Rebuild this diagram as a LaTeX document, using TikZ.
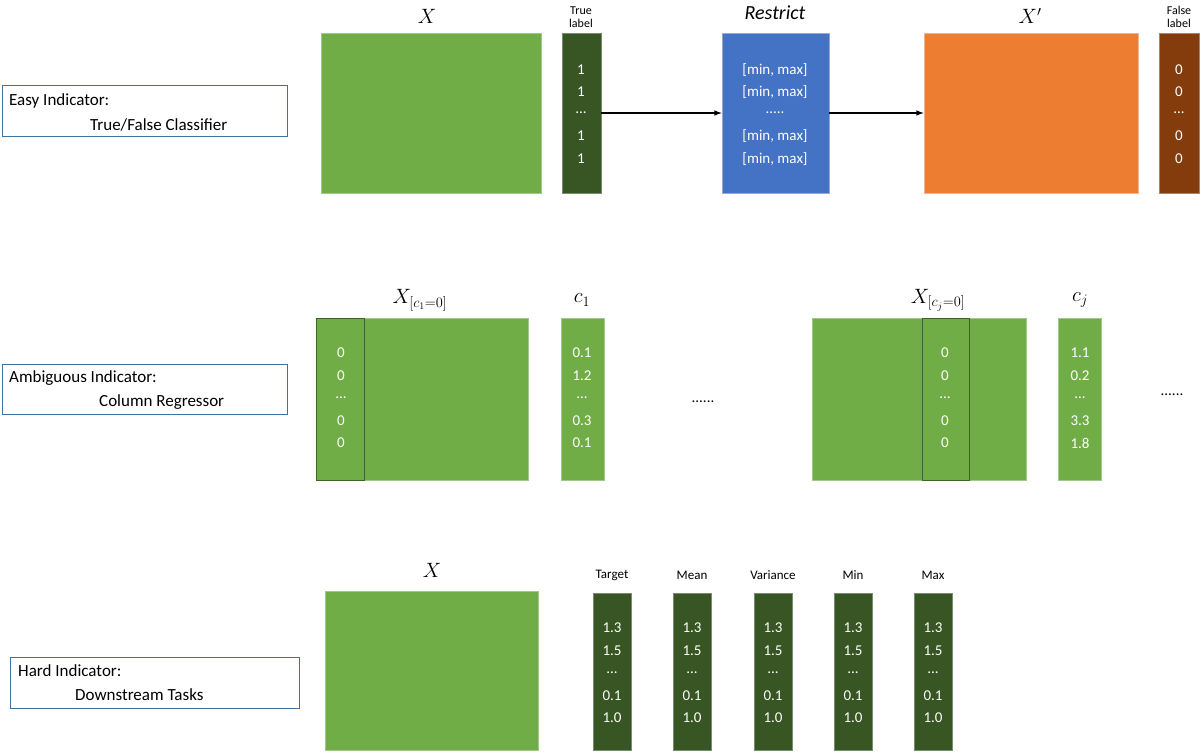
\documentclass[tikz,border=0pt]{standalone}
\usepackage{fontspec}
\setmainfont{Carlito}
\def\mydd{...}
\def\myfive{.....}
\begin{document}
\begin{tikzpicture}[x=1pt,y=-1pt,
  g/.style={fill={rgb,255:red,112;green,173;blue,71},draw={rgb,255:red,160;green,200;blue,140},line width=0.6pt},
  dg/.style={fill={rgb,255:red,55;green,86;blue,35},draw={rgb,255:red,120;green,140;blue,110},line width=0.6pt},
  bl/.style={fill={rgb,255:red,68;green,114;blue,196},draw={rgb,255:red,150;green,170;blue,210},line width=0.6pt},
  org/.style={fill={rgb,255:red,237;green,125;blue,49},draw={rgb,255:red,240;green,180;blue,150},line width=0.6pt},
  br/.style={fill={rgb,255:red,132;green,60;blue,12},draw={rgb,255:red,170;green,130;blue,110},line width=0.6pt},
  inner/.style={draw={rgb,255:red,60;green,100;blue,40},line width=0.8pt},
  ind/.style={draw={rgb,255:red,65;green,113;blue,156},line width=1pt,fill=white},
  wt/.style={text=white,font=\fontsize{15}{15}\selectfont,inner sep=0pt},
  lt/.style={font=\fontsize{17}{17}\selectfont,inner sep=0pt,anchor=west},
  hd/.style={font=\fontsize{13}{15}\selectfont,align=center,inner sep=0pt},
  ml/.style={font=\fontsize{20}{20}\selectfont,inner sep=0pt},
  arr/.style={-latex,line width=1.5pt}]
\useasboundingbox (0,0) rectangle (1200,754);
% Row 1
\path[g] (321,33) rectangle (541,193);
\node[ml] (lx) at (427,16) {$X$};
\node (tl) [dg,minimum width=39pt,minimum height=160pt,inner sep=0pt] at (581.5,113) {};
\node[hd,font=\fontsize{12}{13}\selectfont] at (581,17) {True\\label};
\node (rs) [bl,minimum width=107pt,minimum height=160pt,inner sep=0pt] at (775.5,113) {};
\node[font=\fontsize{20}{20}\selectfont\itshape] at (775,13) {Restrict};
\node (xp) [org,minimum width=214pt,minimum height=160pt,inner sep=0pt] at (1031,113) {};
\node[ml] at (1030,16) {$X'$};
\path[br] (1159,33) rectangle (1199,193);
\node[hd,font=\fontsize{12}{13}\selectfont] at (1179,17) {False\\label};
\foreach \y/\t in {70/1,92/1,113/\mydd,136/1,159/1} \node[wt] at (581,\y) {\t};
\foreach \y/\t in {70/{[min, max]},92/{[min, max]},113/\myfive,136/{[min, max]},159/{[min, max]}} \node[wt] at (775,\y) {\t};
\foreach \y/\t in {70/0,92/0,113/\mydd,136/0,159/0} \node[wt] at (1179,\y) {\t};
\draw[arr] (tl.east) -- (rs.west);
\draw[arr] (rs.east) -- (xp.west);
\path[ind] (2,86) rectangle (287,137);
\node[lt] at (9,101) {Easy Indicator:};
\node[lt] at (90,125) {True/False Classifier};
% Row 2
\path[g] (316,318) rectangle (528,480);
\path[inner] (316,318) rectangle (364,480);
\node[ml] at (420,300) {$X_{[c_1=0]}$};
\path[g] (561,318) rectangle (604,480);
\node[ml] at (582,300) {$c_1$};
\path[g] (812,318) rectangle (1026,480);
\path[inner] (922,318) rectangle (969,480);
\node[ml] at (938,300) {$X_{[c_j=0]}$};
\path[g] (1058,318) rectangle (1101,480);
\node[ml] at (1080,300) {$c_j$};
\foreach \y/\a/\b/\c in {353/0/0.1/1.1,376/0/1.2/0.2,398/\mydd/\mydd/\mydd,421/0/0.3/3.3,443/0/0.1/1.8}{
  \node[wt] at (341,\y) {\a};
  \node[wt] at (582,\y) {\b};
  \node[wt] at (945,\y) {\a};
  \node[wt] at (1080,\y) {\c};}
\node[font=\fontsize{15}{15}\selectfont] at (703,402) {......};
\node[font=\fontsize{15}{15}\selectfont] at (1172,395) {......};
\path[ind] (2,364) rectangle (287,414);
\node[lt] at (9,378) {Ambiguous Indicator:};
\node[lt] at (99,402) {Column Regressor};
% Row 3
\path[g] (325,591) rectangle (538,750);
\node[ml] at (432,570) {$X$};
\foreach \x/\h in {612/Target,692/Mean,773/Variance,853/Min,933/Max}{
  \path[dg] (\x-19,593) rectangle (\x+19,750);
  \node[hd] at (\x,575) {\h};
  \foreach \y/\t in {628/1.3,651/1.5,673/\mydd,696/0.1,718/1.0} \node[wt] at (\x,\y) {\t};}
\path[ind] (10,657) rectangle (299,708);
\node[lt] at (18,671) {Hard Indicator:};
\node[lt] at (75,695) {Downstream Tasks};
\end{tikzpicture}
\end{document}
